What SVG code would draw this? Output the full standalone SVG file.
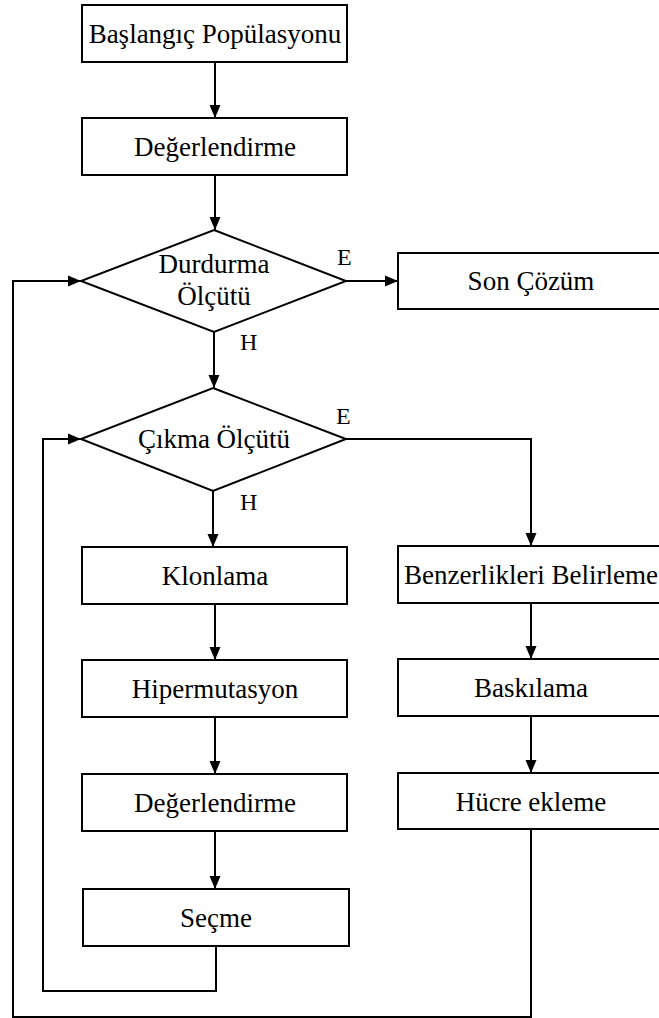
<svg xmlns="http://www.w3.org/2000/svg" width="659" height="1018" viewBox="0 0 659 1018">
<style>
.n rect, .n polygon { fill: #fff; stroke: #000; stroke-width: 2; }
text { font-family: 'Liberation Serif', 'DejaVu Serif', serif; fill: #000; }
.t { font-size: 27px; text-anchor: middle; }
.l { font-size: 24px; }
.c { fill: none; stroke: #000; stroke-width: 2; }
</style>
<defs>
<marker id="ah" markerUnits="userSpaceOnUse" markerWidth="14" markerHeight="12" refX="13" refY="6" orient="auto">
<path d="M0,0.5 L13,6 L0,11.5 Z" fill="#000"/>
</marker>
</defs>
<rect width="659" height="1018" fill="#fff"/>
<g id="connectors">
<path class="c" d="M215,62 V118" marker-end="url(#ah)"/>
<path class="c" d="M215,175 V230" marker-end="url(#ah)"/>
<path class="c" d="M346,281 H398" marker-end="url(#ah)"/>
<path class="c" d="M214,332 V388" marker-end="url(#ah)"/>
<path class="c" d="M346,439 H531 V546" marker-end="url(#ah)"/>
<path class="c" d="M213,491 V547" marker-end="url(#ah)"/>
<path class="c" d="M215,604 V660" marker-end="url(#ah)"/>
<path class="c" d="M215,717 V774" marker-end="url(#ah)"/>
<path class="c" d="M215,831 V889" marker-end="url(#ah)"/>
<path class="c" d="M531,603 V659" marker-end="url(#ah)"/>
<path class="c" d="M531,716 V773" marker-end="url(#ah)"/>
<path class="c" d="M216,946 V991 H43 V439 H81" marker-end="url(#ah)"/>
<path class="c" d="M531,829 V1017 H13 V281 H81" marker-end="url(#ah)"/>
<text class="l" x="337" y="265">E</text>
<text class="l" x="240" y="350">H</text>
<text class="l" x="336" y="424">E</text>
<text class="l" x="240" y="510">H</text>
</g>
<g id="baslangic" class="n"><rect x="82" y="5" width="265" height="57"/><text class="t" x="215" y="43">Başlangıç Popülasyonu</text></g>
<g id="degerlendirme1" class="n"><rect x="82" y="118" width="265" height="57"/><text class="t" x="215" y="156">Değerlendirme</text></g>
<g id="durdurma" class="n"><polygon points="214,230 346,281 214,332 81,281"/><text class="t" x="214" y="273">Durdurma</text><text class="t" x="214" y="305">Ölçütü</text></g>
<g id="soncozum" class="n"><rect x="398" y="253" width="270" height="56"/><text class="t" x="531" y="290">Son Çözüm</text></g>
<g id="cikma" class="n"><polygon points="213,388 346,439 213,491 81,439"/><text class="t" x="214" y="448">Çıkma Ölçütü</text></g>
<g id="klonlama" class="n"><rect x="82" y="547" width="265" height="57"/><text class="t" x="215" y="585">Klonlama</text></g>
<g id="benzerlikler" class="n"><rect x="398" y="546" width="270" height="57"/><text class="t" x="531" y="584">Benzerlikleri Belirleme</text></g>
<g id="hipermutasyon" class="n"><rect x="82" y="660" width="265" height="57"/><text class="t" x="215" y="698">Hipermutasyon</text></g>
<g id="baskilama" class="n"><rect x="398" y="659" width="270" height="57"/><text class="t" x="531" y="697">Baskılama</text></g>
<g id="degerlendirme2" class="n"><rect x="82" y="774" width="265" height="57"/><text class="t" x="215" y="812">Değerlendirme</text></g>
<g id="hucre" class="n"><rect x="398" y="773" width="270" height="56"/><text class="t" x="531" y="811">Hücre ekleme</text></g>
<g id="secme" class="n"><rect x="83" y="889" width="266" height="57"/><text class="t" x="216" y="927">Seçme</text></g>
</svg>
